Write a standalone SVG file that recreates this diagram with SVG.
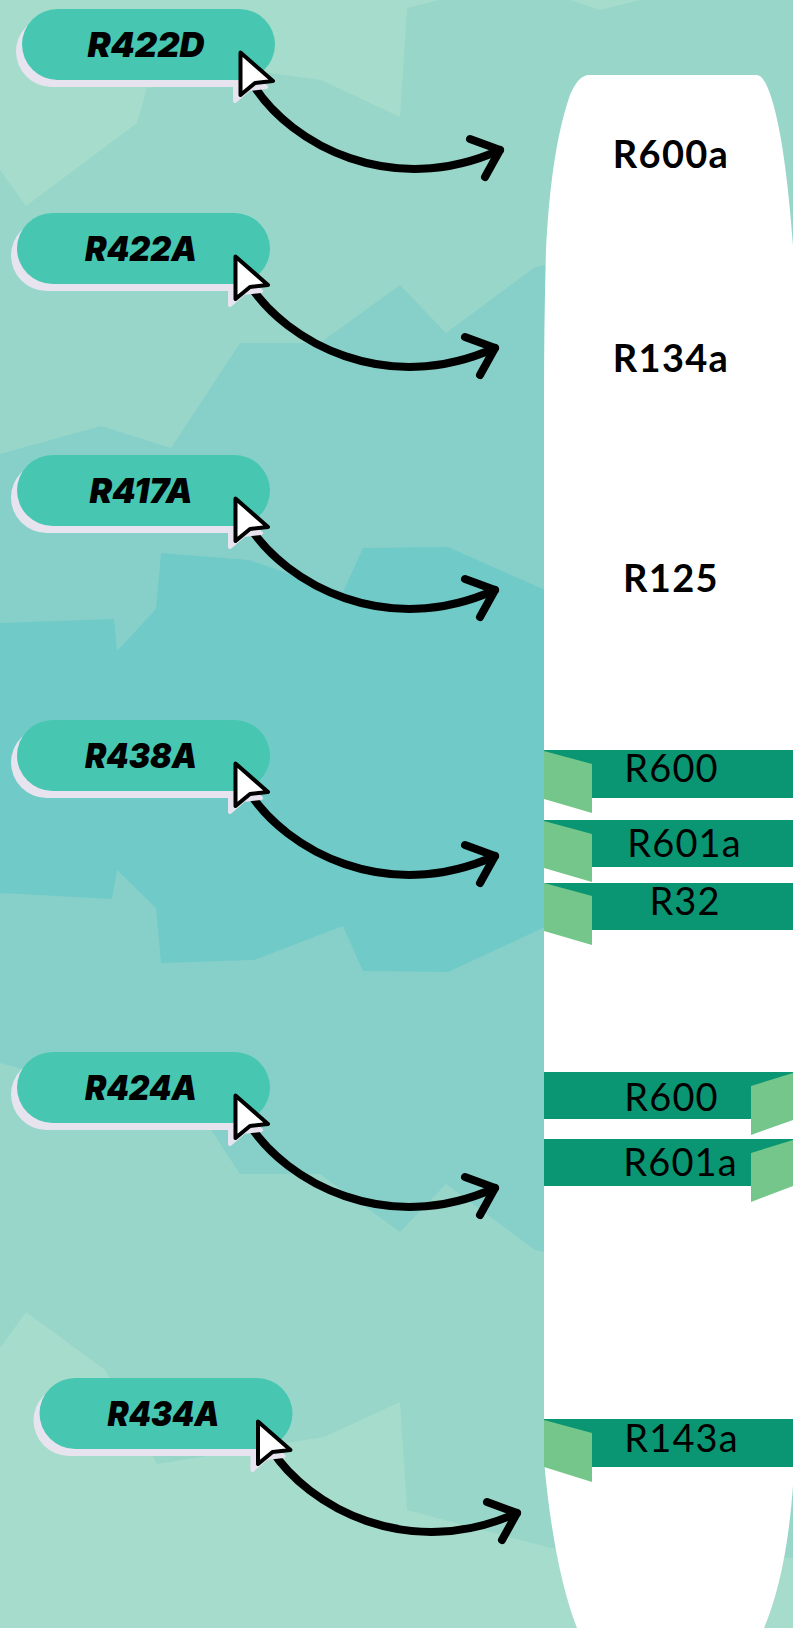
<svg xmlns="http://www.w3.org/2000/svg" xmlns:xlink="http://www.w3.org/1999/xlink" width="793" height="1628" viewBox="0 0 793 1628">
<style>
.pill{fill:#47c7b2}.pshadow{fill:#e8e4ef;stroke:#e8e4ef;stroke-width:4;stroke-linejoin:round}.cursor{fill:#fff;stroke:#000;stroke-width:4;stroke-linejoin:round}
.band{fill:#0a9672}.fold{fill:#75c68a}
.ref{font-family:"Inter","Roboto","Liberation Sans",sans-serif;font-weight:900;font-style:italic;font-size:34px;text-anchor:middle;fill:#000}
.bold{font-family:"Lato","Liberation Sans",sans-serif;font-weight:700;font-size:38px;letter-spacing:1.300px;fill:#000;text-anchor:middle}
.reg{font-family:"Lato","Liberation Sans",sans-serif;font-weight:400;font-size:38px;letter-spacing:1.100px;fill:#000;text-anchor:middle}
.arrow{fill:none;stroke:#000;stroke-width:8;stroke-linecap:round;stroke-linejoin:round}
</style>
<defs>
<g id="pillbase">
<rect x="16" y="16" width="253" height="71" rx="35.500" fill="#e8e4ef"/>
<path class="pshadow" d="M235 62L266 87L249 89L235 101Z"/>
<rect class="pill" x="22" y="9" width="253" height="71" rx="35.500"/>
<path class="cursor" d="M240.500 52.500L273 81L255 83L240.500 95Z"/>
</g>
<g id="curve">
<path d="M-3 -3C34 55 134 110 243 61"/><path d="M213 50L243 61L228 88"/>
</g>
</defs>
<g id="background">
<rect width="793" height="1628" fill="#a6dccb"/>
<path fill="#98d6ca" d="M0 170L26 206L137 123L147 88L270 73L321 80L400 117L407 8L439 0H570L600 10L640 0H793V1558L551 1548L407 1510L400 1402L324 1437L157 1464L105 1370L26 1312L0 1348Z"/>
<path fill="#87d0c9" d="M0 454L101 426L171 448L240 343L320 343L400 285L446 333L535 267L545 265H793V1252H545L535 1250L446 1184L400 1232L320 1174L240 1174L171 1069L101 1091L0 1063Z"/>
<path fill="#70cac8" d="M0 623L114 619L117 651L156 609L161 553L249 560L343 592L363 548L448 547L545 590V927L448 972L363 971L343 926L254 960L161 963L156 908L117 870L112 899L0 893Z"/>
</g>
<g id="panel">
<path fill="#fff" d="M588 75H757Q765 76 772 100C783 135 790 200 794 260V1470C790 1540 780 1590 764 1628H577C562 1590 550 1530 544 1460V400Q544 320 546 250C549 190 556 135 570 95Q578 76 588 75Z"/>
</g>
<g id="connectors" class="arrow">
<use xlink:href="#curve" href="#curve" transform="translate(257 89)"/>
<use xlink:href="#curve" href="#curve" transform="translate(252 287)"/>
<use xlink:href="#curve" href="#curve" transform="translate(252 529)"/>
<use xlink:href="#curve" href="#curve" transform="translate(252 795)"/>
<use xlink:href="#curve" href="#curve" transform="translate(252 1127)"/>
<use xlink:href="#curve" href="#curve" transform="translate(274 1452)"/>
</g>
<g id="node-R422D"><use xlink:href="#pillbase" href="#pillbase"/><text class="ref" x="146" y="57" textLength="117" lengthAdjust="spacingAndGlyphs">R422D</text></g>
<g id="node-R422A" transform="translate(-5 204)"><use xlink:href="#pillbase" href="#pillbase"/><text class="ref" x="146" y="57" textLength="112" lengthAdjust="spacingAndGlyphs">R422A</text></g>
<g id="node-R417A" transform="translate(-5 446)"><use xlink:href="#pillbase" href="#pillbase"/><text class="ref" x="146" y="57" textLength="103" lengthAdjust="spacingAndGlyphs">R417A</text></g>
<g id="node-R438A" transform="translate(-5 711)"><use xlink:href="#pillbase" href="#pillbase"/><text class="ref" x="146" y="57" textLength="112" lengthAdjust="spacingAndGlyphs">R438A</text></g>
<g id="node-R424A" transform="translate(-5 1043)"><use xlink:href="#pillbase" href="#pillbase"/><text class="ref" x="146" y="57" textLength="112" lengthAdjust="spacingAndGlyphs">R424A</text></g>
<g id="node-R434A" transform="translate(17.500 1369)"><use xlink:href="#pillbase" href="#pillbase"/><text class="ref" x="146" y="57" textLength="112" lengthAdjust="spacingAndGlyphs">R434A</text></g>
<g id="node-R600a"><text class="bold" x="671" y="168">R600a</text></g>
<g id="node-R134a"><text class="bold" x="671" y="372">R134a</text></g>
<g id="node-R125"><text class="bold" x="671" y="592">R125</text></g>
<g id="node-R600-1"><rect class="band" x="544" y="750" width="249" height="48"/><path class="fold" d="M544 751L592 764V813L544 799Z"/><text class="reg" x="671.500" y="782">R600</text></g>
<g id="node-R601a-1"><rect class="band" x="544" y="820" width="249" height="47"/><path class="fold" d="M544 821L592 834V882L544 868Z"/><text class="reg" x="684.500" y="857">R601a</text></g>
<g id="node-R32"><rect class="band" x="544" y="883" width="249" height="47"/><path class="fold" d="M544 883L592 896V945L544 931Z"/><text class="reg" x="685" y="915">R32</text></g>
<g id="node-R600-2"><rect class="band" x="544" y="1072" width="249" height="47"/><path class="fold" d="M793 1073L751 1086V1135L793 1120Z"/><text class="reg" x="671.500" y="1111">R600</text></g>
<g id="node-R601a-2"><rect class="band" x="544" y="1139" width="249" height="47"/><path class="fold" d="M793 1140L751 1153V1202L793 1186Z"/><text class="reg" x="680.500" y="1176">R601a</text></g>
<g id="node-R143a"><rect class="band" x="544" y="1419" width="249" height="48"/><path class="fold" d="M544 1420L592 1433V1482L544 1467Z"/><text class="reg" x="681.500" y="1452">R143a</text></g>
</svg>
